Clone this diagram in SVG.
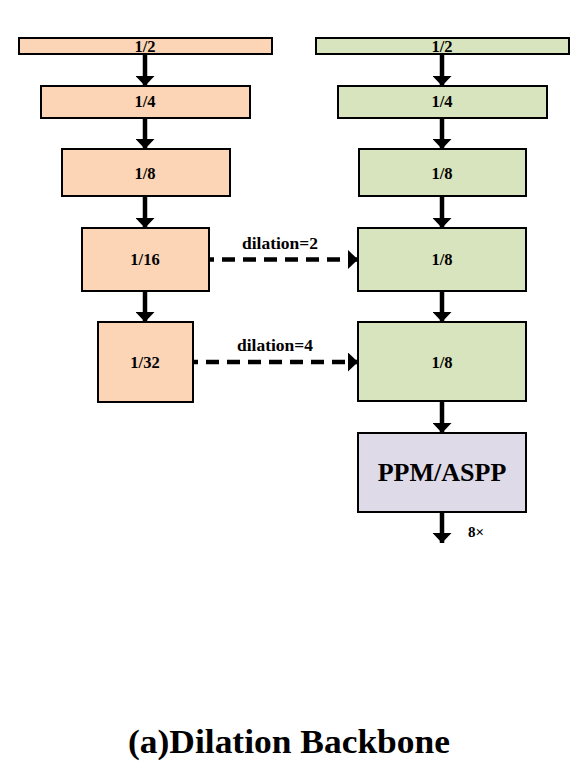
<svg xmlns="http://www.w3.org/2000/svg" width="583" height="784" viewBox="0 0 583 784">
<style>
.box{stroke:#000;stroke-width:2}
.peach{fill:#FBD5B6}
.green{fill:#D7E4BD}
.purple{fill:#DFDAE7}
.lbl{font-family:"Liberation Serif","Times New Roman",serif;font-weight:bold;font-size:16.5px;text-anchor:middle;fill:#000}
.big{font-size:26px}
.dl{font-size:16.5px}
.title{font-size:34px}
.arr{stroke:#000;stroke-width:4.5;fill:none;marker-end:url(#head)}
.dash{stroke-dasharray:13 8;stroke-dashoffset:8}
</style>
<defs>
<marker id="head" markerUnits="userSpaceOnUse" viewBox="0 0 10 19" markerWidth="10" markerHeight="19" refX="10" refY="9.5" orient="auto">
<path d="M0,0 L10,9.5 L0,19 z" fill="#000"/>
</marker>
</defs>
<rect width="583" height="784" fill="#fff"/>
<g id="connectors">
<line class="arr" x1="145" y1="54" x2="145" y2="86"/>
<line class="arr" x1="145" y1="118" x2="145" y2="149"/>
<line class="arr" x1="145" y1="196" x2="145" y2="228"/>
<line class="arr" x1="145" y1="291" x2="145" y2="322"/>
<line class="arr" x1="442" y1="54" x2="442" y2="86"/>
<line class="arr" x1="442" y1="118" x2="442" y2="149"/>
<line class="arr" x1="442" y1="196" x2="442" y2="228"/>
<line class="arr" x1="442" y1="291" x2="442" y2="322"/>
<line class="arr" x1="442" y1="401" x2="442" y2="433"/>
<line class="arr" x1="442" y1="512" x2="442" y2="543"/>
<line class="arr dash" x1="209" y1="259.5" x2="358" y2="259.5"/>
<line class="arr dash" x1="193" y1="362" x2="358" y2="362"/>
<text class="lbl dl" x="280" y="249" textLength="76" lengthAdjust="spacingAndGlyphs">dilation=2</text>
<text class="lbl dl" x="275" y="351" textLength="76" lengthAdjust="spacingAndGlyphs">dilation=4</text>
<text class="lbl" x="476" y="537" style="font-size:15px">8×</text>
</g>
<g id="l2"><rect class="box peach" x="19" y="38" width="253" height="16"/><text class="lbl" x="145" y="52">1/2</text></g>
<g id="l4"><rect class="box peach" x="41" y="86" width="209" height="32"/><text class="lbl" x="145" y="107">1/4</text></g>
<g id="l8"><rect class="box peach" x="62" y="149" width="168" height="47"/><text class="lbl" x="145" y="179">1/8</text></g>
<g id="l16"><rect class="box peach" x="82" y="228" width="127" height="63"/><text class="lbl" x="145" y="265">1/16</text></g>
<g id="l32"><rect class="box peach" x="98" y="322" width="95" height="80"/><text class="lbl" x="145" y="368">1/32</text></g>
<g id="r2"><rect class="box green" x="316" y="38" width="253" height="16"/><text class="lbl" x="442" y="52">1/2</text></g>
<g id="r4"><rect class="box green" x="338" y="86" width="209" height="32"/><text class="lbl" x="442" y="107">1/4</text></g>
<g id="r8a"><rect class="box green" x="359" y="149" width="167" height="47"/><text class="lbl" x="442" y="179">1/8</text></g>
<g id="r8b"><rect class="box green" x="358" y="228" width="168" height="63"/><text class="lbl" x="442" y="265">1/8</text></g>
<g id="r8c"><rect class="box green" x="358" y="322" width="168" height="79"/><text class="lbl" x="442" y="368">1/8</text></g>
<g id="ppm"><rect class="box purple" x="358" y="433" width="168" height="79"/><text class="lbl big" x="442" y="481">PPM/ASPP</text></g>
<text class="lbl title" x="289" y="753" textLength="322" lengthAdjust="spacingAndGlyphs">(a)Dilation Backbone</text>
</svg>
